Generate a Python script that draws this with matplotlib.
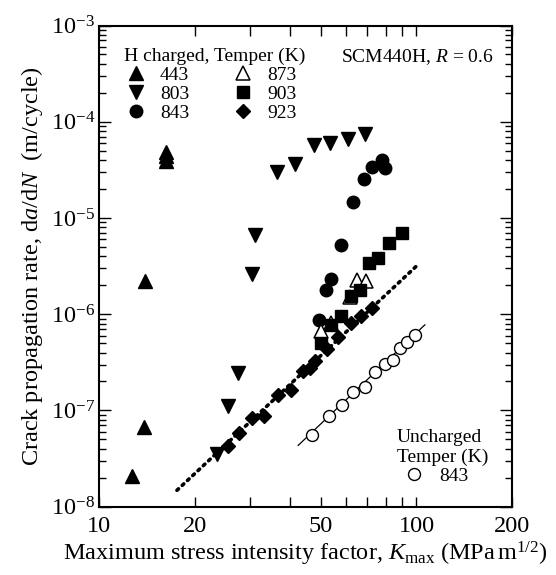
import numpy as np
import matplotlib
matplotlib.use("Agg")
import matplotlib.pyplot as plt
from matplotlib.ticker import FixedLocator, FixedFormatter, LogLocator, NullFormatter

plt.rcParams["font.family"] = ["Liberation Serif", "DejaVu Serif"]
plt.rcParams["mathtext.fontset"] = "custom"
plt.rcParams["mathtext.rm"] = "Liberation Serif"
plt.rcParams["mathtext.it"] = "Liberation Serif:italic"

# H charged, temper 443 K
k_443 = [16.3, 16.3, 16.3, 14.0, 13.9, 12.7]
r_443 = [4.9e-5, 4.4e-5, 3.9e-5, 2.2e-6, 6.8e-8, 2.1e-8]
# 803 K
k_803 = [36.3, 41.4, 47.5, 53.4, 61.0, 68.8, 31.0, 30.4, 27.5, 25.4, 23.5]
r_803 = [3.0e-5, 3.6e-5, 5.7e-5, 6.0e-5, 6.6e-5, 7.4e-5, 6.7e-6, 2.6e-6,
         2.45e-7, 1.1e-7, 3.5e-8]
# 843 K
k_843 = [78.0, 72.7, 79.5, 68.3, 62.9, 57.7, 53.8, 51.9, 49.4]
r_843 = [4.0e-5, 3.4e-5, 3.3e-5, 2.55e-5, 1.46e-5, 5.3e-6, 2.3e-6, 1.8e-6, 8.8e-7]
# 873 K
k_873 = [64.8, 69.3, 61.7, 53.8, 50.0]
r_873 = [2.27e-6, 2.24e-6, 1.52e-6, 8.1e-7, 6.7e-7]
# 903 K
k_903 = [89.8, 82.0, 75.7, 71.1, 66.3, 62.0, 57.8, 53.8, 50.0]
r_903 = [7.0e-6, 5.5e-6, 3.8e-6, 3.4e-6, 1.8e-6, 1.53e-6, 9.6e-7, 7.8e-7, 5.0e-7]
# 923 K
k_923 = [25.5, 27.6, 30.3, 33.2, 36.6, 40.2, 44.0, 46.2, 47.9, 52.1, 56.8,
         62.2, 66.8, 72.4]
r_923 = [4.3e-8, 5.9e-8, 8.3e-8, 8.8e-8, 1.44e-7, 1.62e-7, 2.54e-7, 2.76e-7,
         3.3e-7, 4.3e-7, 5.8e-7, 8.1e-7, 9.6e-7, 1.16e-6]
# uncharged, temper 843 K
k_unc = [47.0, 53.0, 58.3, 63.2, 68.8, 74.0, 79.5, 84.1, 88.6, 93.5, 98.8]
r_unc = [5.6e-8, 8.7e-8, 1.15e-7, 1.54e-7, 1.77e-7, 2.48e-7, 3.05e-7, 3.36e-7,
         4.5e-7, 5.2e-7, 6.1e-7]

# fitted lines (end points)
fit_h_k = [17.6, 101.0]
fit_h_r = [1.48e-8, 3.26e-6]
fit_u_k = [42.4, 106.3]
fit_u_r = [4.33e-8, 7.76e-7]

x_ticks = [10, 20, 30, 40, 50, 60, 70, 80, 90, 100, 200]
x_labels = ["10", "20", "", "", "50", "", "", "", "", "100", "200"]

fig = plt.figure(figsize=(5.56, 5.75), dpi=100)
ax = fig.add_axes([99 / 556, 1 - 506.7 / 575, 413 / 556, 481.2 / 575])
ax.set_xscale("log")
ax.set_yscale("log")

ax.plot(fit_h_k, fit_h_r, color="black", linestyle=(0, (0.6, 1.4)),
        linewidth=2.6, dash_capstyle="round", zorder=1)
ax.plot(fit_u_k, fit_u_r, color="black", linewidth=0.9, zorder=1)

ms = dict(color="black", linestyle="none")
h443, = ax.plot(k_443, r_443, marker="^", markersize=10, label="443", **ms)
h803, = ax.plot(k_803, r_803, marker="v", markersize=10, label="803", **ms)
h843, = ax.plot(k_843, r_843, marker="o", markersize=9, label="843", **ms)
h873, = ax.plot(k_873, r_873, marker="^", markersize=10, markerfacecolor="white",
                markeredgewidth=1.1, label="873", **ms)
h903, = ax.plot(k_903, r_903, marker="s", markersize=8.4, label="903", **ms)
h923, = ax.plot(k_923, r_923, marker="D", markersize=7.3, label="923", **ms)
hunc, = ax.plot(k_unc, r_unc, marker="o", markersize=8.6, markerfacecolor="white",
                markeredgewidth=1.0, label="843", zorder=3, **ms)

ax.set_xlim(10, 200)
ax.set_ylim(1e-8, 1e-3)

ax.xaxis.set_major_locator(FixedLocator(x_ticks))
ax.xaxis.set_major_formatter(FixedFormatter(x_labels))
ax.xaxis.set_minor_locator(FixedLocator([]))
ax.yaxis.set_major_locator(LogLocator(base=10, numticks=10))
ax.yaxis.set_minor_locator(LogLocator(base=10, subs=np.arange(2, 10), numticks=10))
ax.yaxis.set_minor_formatter(NullFormatter())

ax.tick_params(which="both", direction="in", top=True, right=True,
               labelsize=17.5, width=1.0)
ax.tick_params(axis="x", which="major", length=7, pad=6.5)
ax.tick_params(axis="y", which="major", length=8.5, pad=3)
ax.tick_params(axis="y", which="minor", length=5)
for s in ax.spines.values():
    s.set_linewidth(1.5)

ax.set_xlabel(r"Maximum stress intensity factor, $K_{\rm max}$ (MPa$\,$m$^{1/2}$)",
              fontsize=17.5, labelpad=2)
ax.set_ylabel(r"Crack propagation rate, d$a$/d$N$  (m/cycle)", fontsize=17.5,
              labelpad=4)

leg1 = ax.legend(handles=[h443, h803, h843, h873, h903, h923], ncol=2,
                 title="H charged, Temper (K)", title_fontsize=14, fontsize=14,
                 loc="upper left", bbox_to_anchor=(0.0605, 0.953), frameon=False,
                 alignment="left", handlelength=1.2, handletextpad=0.64,
                 columnspacing=2.2, labelspacing=0.06, borderaxespad=0,
                 borderpad=0)
ax.add_artist(leg1)
ax.legend(handles=[hunc], title="Uncharged\nTemper (K)", title_fontsize=14,
          fontsize=14, loc="upper left", bbox_to_anchor=(0.7215, 0.162),
          frameon=False, alignment="left", handlelength=1.8, handletextpad=0.38,
          labelspacing=0.1, borderaxespad=0, borderpad=0)

ax.text(0.585, 0.9345, r"SCM440H, $R$ = 0.6", transform=ax.transAxes,
        fontsize=14, va="center", ha="left")

fig.savefig("out.png", dpi=100)
